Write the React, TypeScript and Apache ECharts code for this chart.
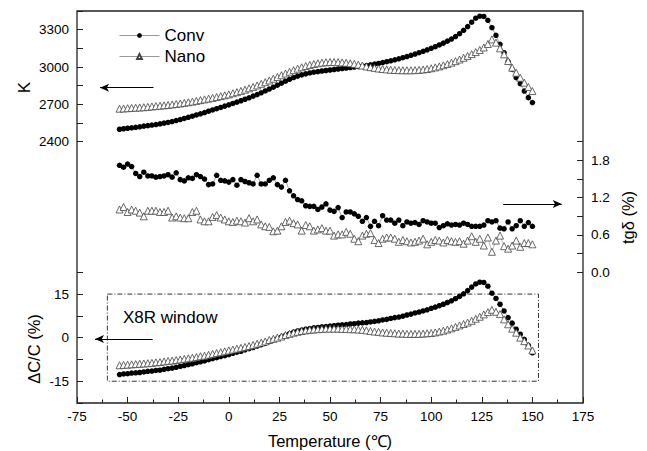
import React, { useEffect, useRef } from 'react';
import * as echarts from 'echarts';

// Temperature (°C)
const temperature = [
  -54, -52, -50, -48, -46, -44, -42, -40, -38, -36,
  -34, -32, -30, -28, -26, -24, -22, -20, -18, -16,
  -14, -12, -10, -8, -6, -4, -2, 0, 2, 4,
  6, 8, 10, 12, 14, 16, 18, 20, 22, 24,
  26, 28, 30, 32, 34, 36, 38, 40, 42, 44,
  46, 48, 50, 52, 54, 56, 58, 60, 62, 64,
  66, 68, 70, 72, 74, 76, 78, 80, 82, 84,
  86, 88, 90, 92, 94, 96, 98, 100, 102, 104,
  106, 108, 110, 112, 114, 116, 118, 120, 122, 124,
  126, 128, 130, 132, 134, 136, 138, 140, 142, 144,
  146, 148, 150,
];

// Permittivity K
const convK = [
  2500, 2504, 2508, 2512, 2516, 2520, 2525, 2529, 2534, 2538,
  2543, 2549, 2555, 2562, 2570, 2578, 2587, 2596, 2605, 2615,
  2624, 2634, 2645, 2655, 2665, 2675, 2686, 2696, 2707, 2718,
  2729, 2741, 2753, 2766, 2779, 2793, 2808, 2823, 2838, 2854,
  2870, 2886, 2901, 2915, 2927, 2937, 2945, 2952, 2958, 2963,
  2968, 2972, 2976, 2980, 2984, 2988, 2992, 2996, 3000, 3004,
  3008, 3012, 3017, 3023, 3029, 3036, 3043, 3050, 3058, 3066,
  3075, 3084, 3094, 3104, 3115, 3126, 3138, 3150, 3163, 3177,
  3192, 3208, 3225, 3245, 3268, 3295, 3325, 3360, 3392, 3408,
  3406, 3375, 3316, 3255, 3182, 3115, 3043, 2981, 2914, 2866,
  2807, 2754, 2714,
];
const nanoK = [
  2665, 2667, 2669, 2671, 2673, 2675, 2677, 2680, 2683, 2686,
  2689, 2692, 2695, 2699, 2703, 2707, 2712, 2717, 2722, 2728,
  2734, 2740, 2746, 2752, 2759, 2766, 2773, 2780, 2789, 2798,
  2808, 2818, 2829, 2840, 2852, 2865, 2878, 2892, 2906, 2920,
  2934, 2948, 2962, 2975, 2987, 2998, 3008, 3017, 3024, 3030,
  3035, 3038, 3040, 3040, 3039, 3037, 3034, 3030, 3025, 3019,
  3012, 3005, 2999, 2993, 2988, 2984, 2981, 2978, 2976, 2975,
  2974, 2974, 2974, 2975, 2977, 2980, 2984, 2990, 2997, 3005,
  3014, 3024, 3035, 3047, 3060, 3074, 3089, 3104, 3120, 3137,
  3157, 3185, 3222, 3196, 3150, 3102, 3048, 2995, 2954, 2914,
  2874, 2840, 2807,
];

// Loss tangent tgδ (%)
const convTg = [
  1.72, 1.69, 1.74, 1.70, 1.59, 1.54, 1.61, 1.55, 1.55, 1.53,
  1.54, 1.55, 1.57, 1.53, 1.60, 1.49, 1.47, 1.52, 1.51, 1.57,
  1.54, 1.50, 1.41, 1.42, 1.56, 1.48, 1.47, 1.45, 1.49, 1.40,
  1.49, 1.46, 1.44, 1.42, 1.56, 1.42, 1.42, 1.48, 1.52, 1.41,
  1.37, 1.48, 1.31, 1.23, 1.17, 1.15, 1.07, 1.06, 1.06, 1.01,
  1.05, 1.10, 1.00, 0.98, 1.04, 0.88, 0.97, 0.97, 0.94, 0.90,
  0.82, 0.88, 0.74, 0.82, 0.75, 0.91, 0.84, 0.84, 0.79, 0.84,
  0.75, 0.81, 0.79, 0.80, 0.77, 0.83, 0.81, 0.79, 0.79, 0.72,
  0.75, 0.78, 0.76, 0.77, 0.76, 0.79, 0.77, 0.74, 0.74, 0.74,
  0.76, 0.83, 0.81, 0.83, 0.71, 0.70, 0.81, 0.70, 0.75, 0.83,
  0.74, 0.80, 0.74,
];
const nanoTg = [
  1.01, 1.05, 0.97, 1.01, 0.99, 0.96, 0.90, 0.99, 0.99, 0.99,
  0.97, 0.97, 0.99, 0.88, 0.90, 0.88, 0.87, 0.87, 0.97, 0.99,
  0.85, 0.82, 0.82, 0.89, 0.92, 0.88, 0.85, 0.82, 0.81, 0.83,
  0.82, 0.80, 0.87, 0.82, 0.85, 0.77, 0.74, 0.73, 0.66, 0.67,
  0.74, 0.81, 0.83, 0.79, 0.77, 0.67, 0.76, 0.74, 0.67, 0.69,
  0.71, 0.67, 0.67, 0.59, 0.61, 0.61, 0.65, 0.62, 0.54, 0.50,
  0.59, 0.62, 0.63, 0.52, 0.47, 0.54, 0.56, 0.56, 0.54, 0.49,
  0.52, 0.50, 0.48, 0.49, 0.51, 0.54, 0.45, 0.49, 0.52, 0.51,
  0.48, 0.52, 0.50, 0.49, 0.50, 0.46, 0.51, 0.58, 0.49, 0.54,
  0.43, 0.56, 0.33, 0.51, 0.59, 0.42, 0.38, 0.43, 0.51, 0.41,
  0.47, 0.47, 0.45,
];

// Capacitance change ΔC/C (%)
const convDC = [
  -12.7, -12.5, -12.4, -12.2, -12.1, -12.0, -11.8, -11.6, -11.5, -11.3,
  -11.2, -10.9, -10.7, -10.5, -10.2, -9.9, -9.6, -9.3, -9.0, -8.6,
  -8.3, -8.0, -7.6, -7.2, -6.9, -6.5, -6.2, -5.8, -5.4, -5.0,
  -4.7, -4.2, -3.8, -3.4, -2.9, -2.4, -1.9, -1.4, -0.8, -0.3,
  0.3, 0.8, 1.4, 1.9, 2.3, 2.6, 2.9, 3.1, 3.4, 3.5,
  3.7, 3.8, 4.0, 4.1, 4.3, 4.4, 4.5, 4.7, 4.8, 5.0,
  5.1, 5.2, 5.4, 5.6, 5.8, 6.1, 6.3, 6.6, 6.9, 7.1,
  7.4, 7.8, 8.1, 8.5, 8.8, 9.2, 9.6, 10.1, 10.5, 11.0,
  11.5, 12.1, 12.7, 13.4, 14.2, 15.1, 16.2, 17.4, 18.5, 19.1,
  19.0, 17.7, 15.3, 13.5, 11.5, 9.2, 6.9, 5.0, 2.9, 1.2,
  -0.6, -2.7, -5.2,
];
const nanoDC = [
  -9.5, -9.4, -9.3, -9.2, -9.1, -9.0, -8.9, -8.8, -8.7, -8.5,
  -8.4, -8.2, -8.0, -7.9, -7.7, -7.5, -7.3, -7.1, -6.9, -6.7,
  -6.4, -6.2, -5.9, -5.6, -5.3, -5.0, -4.7, -4.4, -4.1, -3.8,
  -3.5, -3.2, -2.9, -2.5, -2.1, -1.7, -1.3, -0.8, -0.4, 0.0,
  0.4, 0.9, 1.3, 1.7, 2.0, 2.3, 2.5, 2.7, 2.8, 2.9,
  3.0, 3.1, 3.1, 3.1, 3.1, 3.0, 3.0, 2.9, 2.9, 2.8,
  2.7, 2.5, 2.3, 2.1, 2.0, 1.8, 1.7, 1.6, 1.5, 1.4,
  1.4, 1.3, 1.3, 1.3, 1.3, 1.4, 1.5, 1.6, 1.8, 2.1,
  2.4, 2.8, 3.2, 3.7, 4.2, 4.7, 5.2, 5.8, 6.5, 7.2,
  8.0, 8.8, 9.6, 8.9, 8.1, 6.3, 4.6, 3.1, 1.7, 0.0,
  -1.2, -2.7, -4.4,
];

// Labelled ticks
const kTicks = [2400, 2700, 3000, 3300];
const tgTicks = [0, 0.6, 1.2, 1.8];
const dcTicks = [-15, 0, 15];

// X8R window bounds (°C, %)
const x8rTemp = [-60, 153];
const x8rLimit = [15, -15];

const FONT = 'Arial, "Liberation Sans", Helvetica, sans-serif';

export default function App() {
  const ref = useRef<HTMLDivElement>(null);

  useEffect(() => {
    document.body.style.margin = '0';
    const chart = echarts.init(ref.current as HTMLDivElement, null, { renderer: 'svg' });
    const pairs = (ys: number[]) => temperature.map((t, i) => [t, ys[i]]);

    const L = 77;
    const W = 506;
    const tickColor = '#222';

    const hasTick = (list: number[], v: number) => list.some((t) => Math.abs(t - v) < 1e-6);

    const xBase = {
      type: 'value',
      min: -75,
      max: 175,
      interval: 25,
      splitLine: { show: false },
    };

    const yBase = {
      type: 'value',
      axisLine: { show: false, onZero: false },
      splitLine: { show: false },
      axisTick: { inside: true, length: 6, lineStyle: { color: tickColor, width: 1 } },
    };

    const convStyle = {
      type: 'line',
      name: 'Conv',
      symbol: 'circle',
      symbolSize: 5.5,
      showSymbol: true,
      itemStyle: { color: '#000' },
      lineStyle: { color: '#666', width: 0.6 },
      emphasis: { disabled: true },
      z: 3,
    };
    const nanoStyle = {
      type: 'line',
      name: 'Nano',
      symbol: 'triangle',
      symbolSize: 7,
      showSymbol: true,
      itemStyle: { color: '#fff', borderColor: '#444', borderWidth: 0.8 },
      lineStyle: { color: '#888', width: 0.6 },
      emphasis: { disabled: true },
      z: 4,
    };

    const arrowStyle = {
      silent: true,
      symbol: ['none', 'arrow'],
      symbolSize: [6, 9],
      label: { show: false },
      lineStyle: { color: '#000', width: 1.2, type: 'solid' },
      emphasis: { disabled: true },
    };

    chart.setOption({
      animation: false,
      textStyle: { fontFamily: FONT },
      grid: [
        { left: L, top: 11, width: W, height: 130.7 },
        { left: L, top: 141.7, width: W, height: 130.6 },
        { left: L, top: 272.3, width: W, height: 130.7 },
      ],
      legend: {
        data: ['Conv', 'Nano'],
        orient: 'vertical',
        left: 114,
        top: 22,
        itemWidth: 40,
        itemHeight: 6,
        itemGap: 4,
        selectedMode: false,
        lineStyle: { color: '#999', width: 1 },
        textStyle: { fontSize: 17, color: '#000', fontFamily: FONT },
      },
      xAxis: [
        { ...xBase, gridIndex: 0, show: false, axisLine: { show: false, onZero: false } },
        { ...xBase, gridIndex: 1, show: false, axisLine: { show: false, onZero: false } },
        {
          ...xBase,
          gridIndex: 2,
          position: 'bottom',
          axisLine: { show: false, onZero: false },
          axisTick: { inside: true, length: 6, lineStyle: { color: tickColor, width: 1 } },
          minorTick: { show: true, splitNumber: 2, length: 3.5, lineStyle: { color: tickColor, width: 1 } },
          axisLabel: { fontSize: 13.5, color: '#000', margin: 6, fontFamily: FONT },
          name: 'Temperature (℃)',
          nameLocation: 'middle',
          nameGap: 29,
          nameTextStyle: { fontSize: 16.5, color: '#000', fontFamily: FONT },
        },
      ],
      yAxis: [
        {
          ...yBase,
          gridIndex: 0,
          position: 'left',
          min: 2400,
          max: 3450,
          interval: 150,
          axisLabel: {
            fontSize: 13.5,
            color: '#000',
            margin: 8,
            fontFamily: FONT,
            formatter: (v: number) => (hasTick(kTicks, v) ? String(v) : ''),
          },
        },
        {
          ...yBase,
          gridIndex: 1,
          position: 'right',
          min: 0,
          max: 2.1,
          interval: 0.3,
          axisLabel: {
            fontSize: 13.5,
            color: '#000',
            margin: 8,
            fontFamily: FONT,
            formatter: (v: number) => (hasTick(tgTicks, v) ? v.toFixed(1) : ''),
          },
        },
        {
          ...yBase,
          gridIndex: 2,
          position: 'left',
          min: -22.5,
          max: 22.5,
          interval: 7.5,
          axisLabel: {
            fontSize: 13.5,
            color: '#000',
            margin: 8,
            fontFamily: FONT,
            formatter: (v: number) => (hasTick(dcTicks, v) ? String(v) : ''),
          },
        },
      ],
      series: [
        {
          ...convStyle,
          xAxisIndex: 0,
          yAxisIndex: 0,
          data: pairs(convK),
          markLine: { ...arrowStyle, data: [[{ coord: [-37.2, 2834] }, { coord: [-63.6, 2834] }]] },
        },
        { ...nanoStyle, xAxisIndex: 0, yAxisIndex: 0, data: pairs(nanoK) },
        {
          ...convStyle,
          xAxisIndex: 1,
          yAxisIndex: 1,
          data: pairs(convTg),
          markLine: { ...arrowStyle, data: [[{ coord: [135.5, 1.1] }, { coord: [164.5, 1.1] }]] },
        },
        { ...nanoStyle, xAxisIndex: 1, yAxisIndex: 1, data: pairs(nanoTg) },
        {
          ...convStyle,
          xAxisIndex: 2,
          yAxisIndex: 2,
          data: pairs(convDC),
          markLine: { ...arrowStyle, data: [[{ coord: [-37.6, -0.5] }, { coord: [-66.1, -0.5] }]] },
          markArea: {
            silent: true,
            label: { show: false },
            itemStyle: {
              color: 'rgba(0,0,0,0)',
              borderColor: '#333',
              borderWidth: 1,
              borderType: [5, 2, 1, 2],
            },
            data: [[{ coord: [x8rTemp[0], x8rLimit[0]] }, { coord: [x8rTemp[1], x8rLimit[1]] }]],
          },
        },
        { ...nanoStyle, xAxisIndex: 2, yAxisIndex: 2, data: pairs(nanoDC) },
      ],
      graphic: [
        {
          type: 'rect',
          silent: true,
          z: 100,
          shape: { x: L, y: 11, width: W, height: 392 },
          style: { fill: 'none', stroke: '#222', lineWidth: 1.3 },
        },
        {
          type: 'text',
          x: 24,
          y: 87.5,
          rotation: Math.PI / 2,
          style: { text: 'K', fontSize: 17, fill: '#000', align: 'center', verticalAlign: 'middle', fontFamily: FONT },
        },
        {
          type: 'text',
          x: 34,
          y: 349,
          rotation: Math.PI / 2,
          style: { text: 'ΔC/C (%)', fontSize: 16.5, fill: '#000', align: 'center', verticalAlign: 'middle', fontFamily: FONT },
        },
        {
          type: 'text',
          x: 628,
          y: 217.5,
          rotation: Math.PI / 2,
          style: { text: 'tgδ (%)', fontSize: 16.5, fill: '#000', align: 'center', verticalAlign: 'middle', fontFamily: FONT },
        },
        {
          type: 'text',
          x: 123,
          y: 317,
          style: { text: 'X8R window', fontSize: 17, fill: '#000', align: 'left', verticalAlign: 'middle', fontFamily: FONT },
        },
      ],
    });

    return () => {
      chart.dispose();
    };
  }, []);

  return <div ref={ref} style={{ width: 647, height: 451 }} />;
}
